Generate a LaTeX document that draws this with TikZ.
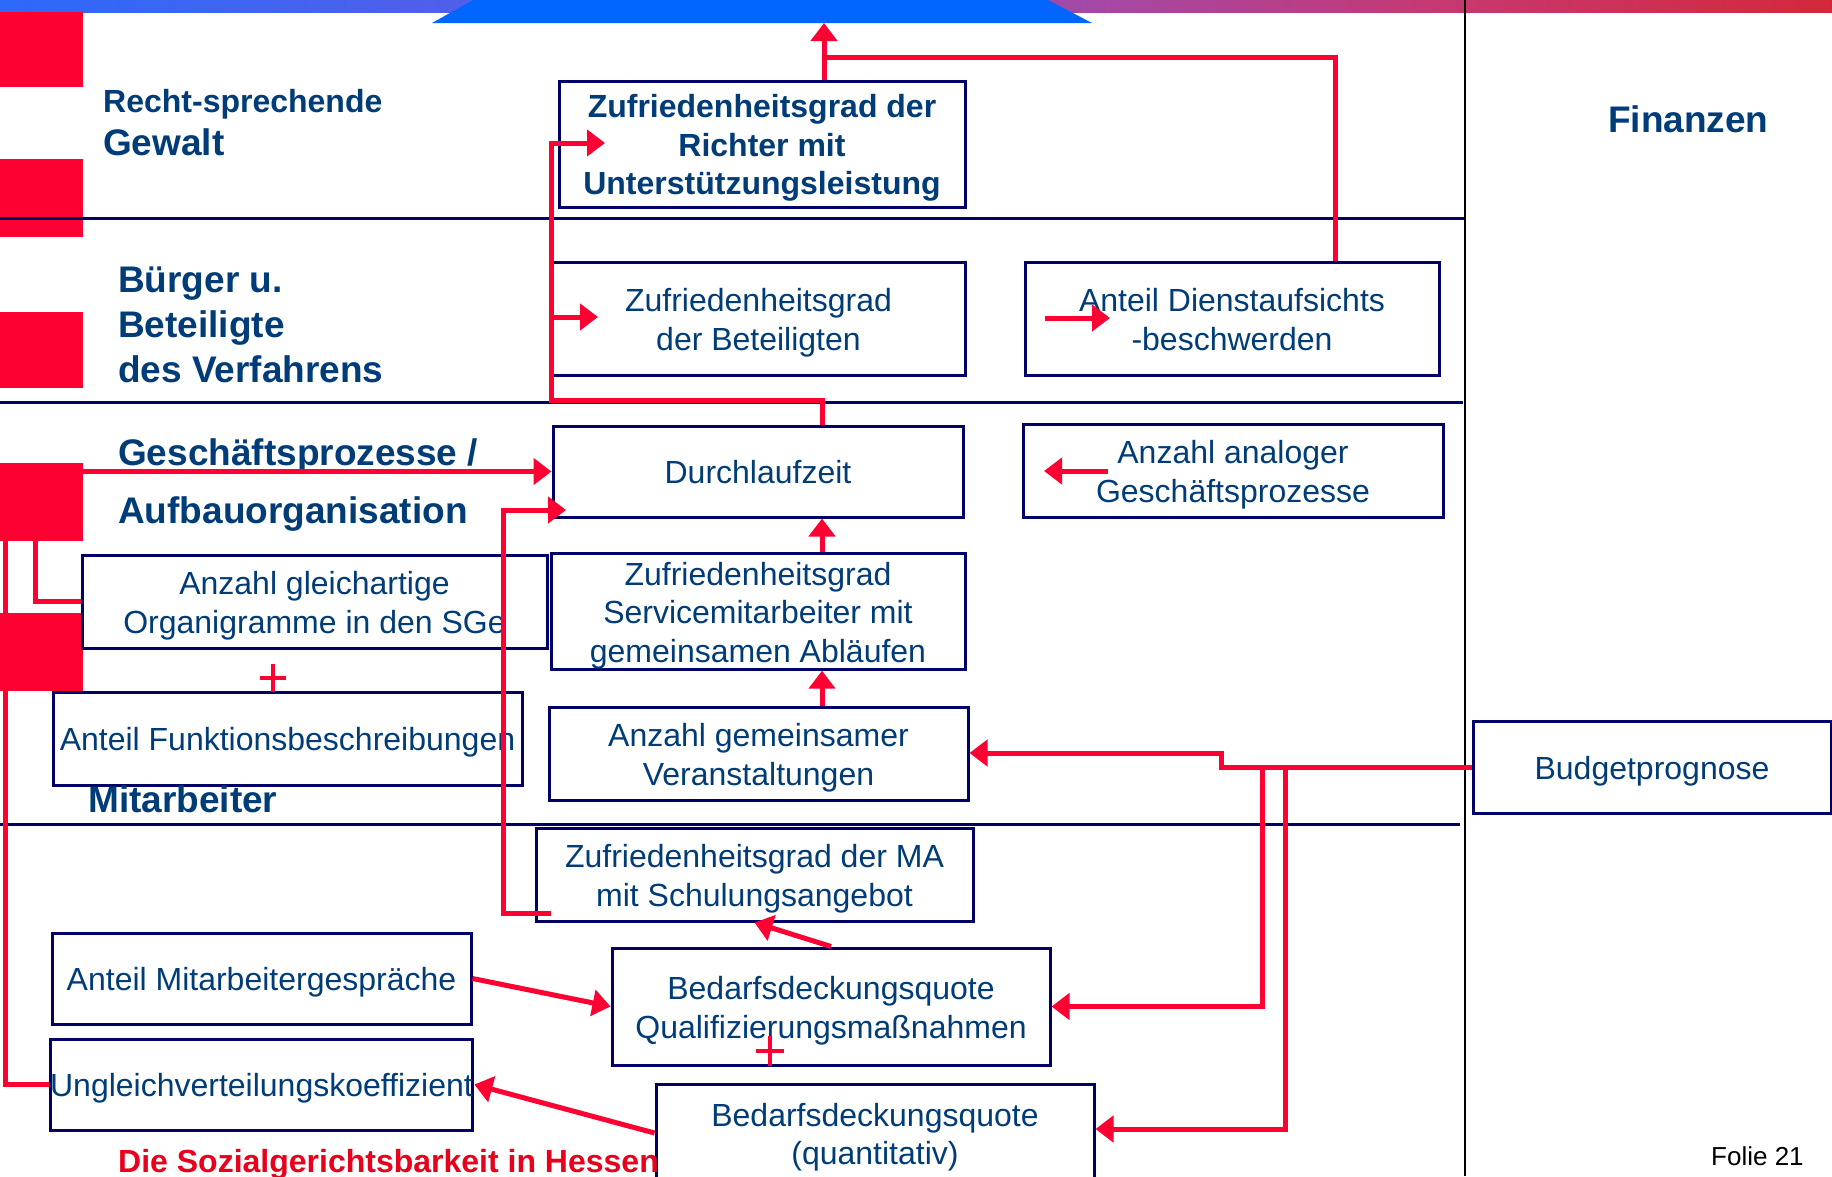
\documentclass[tikz,border=0pt]{standalone}
\usepackage{fontspec}
\setmainfont{Liberation Sans}
\usetikzlibrary{arrows.meta}
\definecolor{redc}{RGB}{255,0,51}
\definecolor{navy}{RGB}{0,0,102}
\definecolor{txtblue}{RGB}{0,60,120}
\definecolor{titlered}{RGB}{232,0,28}
\definecolor{trap}{RGB}{0,102,255}
\definecolor{ga}{RGB}{45,105,250}
\definecolor{gb}{RGB}{80,95,235}
\definecolor{gc}{RGB}{165,72,165}
\definecolor{gd}{RGB}{200,55,110}
\definecolor{ge}{RGB}{212,40,58}
\pgfdeclarehorizontalshading{topbar}{100bp}{color(0bp)=(ga); color(25bp)=(ga); color(37.5bp)=(gb); color(55bp)=(gc); color(65bp)=(gd); color(75bp)=(ge); color(100bp)=(ge)}
\newcommand\ls{\rule[-6.9pt]{0pt}{38.3pt}}
\tikzset{
  box/.style={draw=navy, line width=3pt, fill=white, inner sep=0pt, align=center, text=txtblue, font=\fontsize{32}{38.5}\selectfont},
  boldbox/.style={box, font=\bfseries\fontsize{32}{38.5}\selectfont},
  rline/.style={draw=redc, line width=5pt},
  rarrow/.style={rline, -{Triangle[length=18pt,width=26pt]}},
  sect/.style={text=txtblue, font=\bfseries\fontsize{37}{45}\selectfont, anchor=base west, inner sep=0pt},
  blk/.style={fill=redc, inner sep=0pt, minimum width=83pt, anchor=north west},
  hline/.style={draw=navy, line width=3pt},
  plusst/.style={draw=redc, line width=4pt},
}
\begin{document}
\begin{tikzpicture}[x=1pt,y=-1pt]
\useasboundingbox (0,0) rectangle (1832,1176);
\fill[white] (0,0) rectangle (1832,1176);
% top bar
\shade[shading=topbar] (0,0) rectangle (1832,12);
\fill[trap] (473,0) -- (1048,0) -- (1092,23) -- (432,23) -- cycle;
% red blocks
\node[blk, minimum height=75pt] (blk1) at (0,12) {};
\node[blk, minimum height=78pt] (blk2) at (0,159) {};
\node[blk, minimum height=76pt] (blk3) at (0,312) {};
\node[blk, minimum height=78pt] (blk4) at (0,463) {};
\node[blk, minimum height=78pt] (blk5) at (0,613) {};
% lane lines
\draw[hline] (0,218) -- (1464,218);
\draw[hline] (0,402) -- (1463,402);
\draw[hline] (0,824) -- (1460,824);
\draw[black, line width=2.5pt] (1465,0) -- (1465,1176);
% boxes
\node[boldbox, minimum width=406pt, minimum height=126pt] (richter) at (762,144) {\ls Zufriedenheitsgrad der\\\ls Richter mit\\\ls Unterstützungsleistung};
\node[box, minimum width=413pt, minimum height=113pt] (beteil) at (758.5,318.5) {\ls Zufriedenheitsgrad\\\ls der Beteiligten};
\node[box, minimum width=414pt, minimum height=113pt] (dienst) at (1232,318.5) {\ls Anteil Dienstaufsichts\\\ls -beschwerden};
\node[box, minimum width=410pt, minimum height=91pt] (durch) at (758,471.5) {\ls Durchlaufzeit};
\node[box, minimum width=420pt, minimum height=93pt] (analog) at (1233,470.5) {\ls Anzahl analoger\\\ls Geschäftsprozesse};
\node[box, minimum width=414pt, minimum height=113pt] (service) at (758,611.5) {\ls Zufriedenheitsgrad\\\ls Servicemitarbeiter mit\\\ls gemeinsamen Abläufen};
\node[box, minimum width=419pt, minimum height=93pt] (veran) at (758.5,753.5) {\ls Anzahl gemeinsamer\\\ls Veranstaltungen};
\node[box, minimum width=465pt, minimum height=93pt] (gleich) at (314.5,601.5) {\ls Anzahl gleichartige\\\ls Organigramme in den SGe};
\node[box, minimum width=469pt, minimum height=93pt] (funkt) at (287.5,738.5) {\ls Anteil Funktionsbeschreibungen};
\node[box, minimum width=437pt, minimum height=93pt] (maschul) at (754.5,874.5) {\ls Zufriedenheitsgrad der MA\\\ls mit Schulungsangebot};
\node[box, minimum width=419pt, minimum height=91pt] (mage) at (261.5,978.5) {\ls Anteil Mitarbeitergespräche};
\node[box, minimum width=419pt, minimum height=91pt] (ungl) at (261.5,1084.5) {\ls Ungleichverteilungskoeffizient};
\node[box, minimum width=438pt, minimum height=117pt] (qualif) at (831,1006.5) {\ls Bedarfsdeckungsquote\\\ls Qualifizierungsmaßnahmen};
\node[box, minimum width=438pt, minimum height=98pt] (quant) at (875,1133) {\ls Bedarfsdeckungsquote\\\ls (quantitativ)};
\node[box, minimum width=358pt, minimum height=92pt] (budget) at (1652,767) {\ls Budgetprognose};
% section labels
\node[sect, font=\bfseries\fontsize{32}{38}\selectfont] (lrs) at (103,112) {Recht-sprechende};
\node[sect] (lgw) at (103,155) {Gewalt};
\node[sect] (lbu1) at (118,292) {Bürger u.};
\node[sect] (lbu2) at (118,337) {Beteiligte};
\node[sect] (lbu3) at (118,382) {des Verfahrens};
\node[sect] (lgp1) at (118,465) {Geschäftsprozesse /};
\node[sect] (lgp2) at (118,523) {Aufbauorganisation};
\node[sect] (lmit) at (88,812) {Mitarbeiter};
\node[sect] (lfin) at (1608,132) {Finanzen};
\node[sect, text=titlered, font=\bfseries\fontsize{32}{38}\selectfont] (title) at (118,1172) {Die Sozialgerichtsbarkeit in Hessen};
\node[anchor=base west, inner sep=0pt, text=black, font=\fontsize{26}{31}\selectfont] (folie) at (1711,1165) {Folie 21};
% coordinates
\coordinate (toptip) at (824,23);
\coordinate (dj) at (1335,57);
\coordinate (xA) at (822,400);
\coordinate (busx) at (551,400);
\coordinate (rtip) at (605,143);
\coordinate (btip) at (598,317);
\coordinate (da1) at (1045,318);
\coordinate (da2) at (1110,318);
\coordinate (aa1) at (1108,471);
\coordinate (aa2) at (1044,471);
\coordinate (gx) at (35,602);
\coordinate (ux) at (5,1085);
\coordinate (mstart) at (551,913);
\coordinate (mx) at (503,510);
\coordinate (dtip) at (566,510);
\coordinate (bstep) at (1221,753);
\coordinate (bq) at (1262,1006);
\coordinate (bz) at (1285,1129);
\coordinate (p1) at (273,678);
\coordinate (p2) at (770,1051);
% connectors
\draw[rarrow] (toptip |- richter.north) -- (toptip);
\draw[rline] (dj |- dienst.north) |- (toptip |- dj);
\draw[rarrow] (xA |- durch.north) |- (busx) |- (rtip);
\draw[rarrow] (busx |- btip) -- (btip);
\draw[rarrow] (da1) -- (da2);
\draw[rarrow] (aa1) -- (aa2);
\draw[rarrow] (blk4.east |- durch.west) -- (durch.west);
\draw[rline] (gx |- blk4.south) |- (gleich.west);
\draw[rline] (ux |- blk4.south) |- (ungl.west);
\draw[rarrow] (mstart) -| (mx) -- (dtip);
\draw[rarrow] (xA |- service.north) -- (xA |- durch.south);
\draw[rarrow] (xA |- veran.north) -- (xA |- service.south);
\draw[rarrow] (budget.west) -| (bstep) -- (bstep -| veran.east);
\draw[rarrow] (bq |- budget.west) |- (qualif.east);
\draw[rarrow] (bz |- budget.west) |- (bz -| quant.east);
\draw[rarrow] (mage.east) -- (qualif.west);
\draw[rarrow] (qualif.north) -- (maschul.south);
\draw[rarrow] (quant.west) -- (ungl.east);
% plus signs
\draw[plusst] ([xshift=-13pt]p1) -- ([xshift=13pt]p1) ([yshift=-14pt]p1) -- ([yshift=14pt]p1);
\draw[plusst] ([xshift=-14pt]p2) -- ([xshift=14pt]p2) ([yshift=-15pt]p2) -- ([yshift=15pt]p2);
\end{tikzpicture}
\end{document}
